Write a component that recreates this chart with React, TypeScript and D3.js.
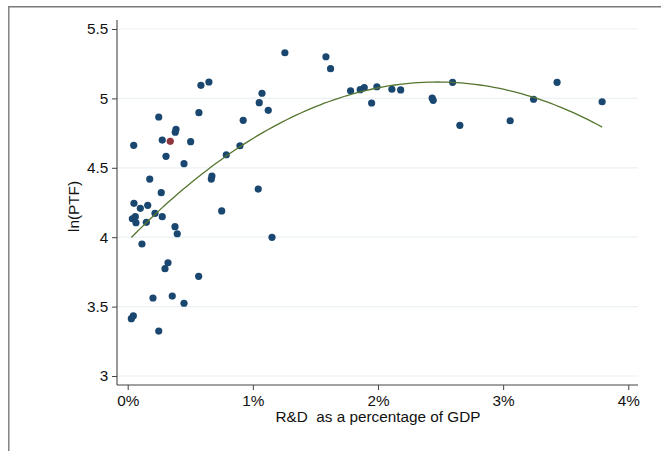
import React, { useEffect, useRef } from 'react';
import * as d3 from 'd3';

// R&D spending as % of GDP (x) and ln(PTF) (y)
const rdShare = [
  0.585, 0.649, 0.248, 0.569, 0.923, 0.386, 0.380, 0.048, 0.276, 0.503,
  0.306, 0.897, 0.788, 0.450, 0.176, 0.673, 0.668, 0.268, 0.050, 0.101,
  0.160, 0.751, 0.218, 0.276, 0.037, 0.061, 0.066, 0.149, 0.378, 0.396,
  0.114, 0.322, 0.298, 0.567, 0.202, 0.356, 0.450, 0.045, 0.029, 0.248,
  1.153, 1.256, 1.584, 1.621, 1.073, 1.051, 1.123, 1.043, 1.781, 1.858,
  1.890, 1.991, 1.949, 2.111, 2.181, 2.433, 2.441, 2.596, 2.654, 3.056,
  3.243, 3.431, 3.791
];
const lnPtf = [
  5.094, 5.118, 4.866, 4.897, 4.842, 4.777, 4.756, 4.662, 4.700, 4.688,
  4.583, 4.659, 4.594, 4.530, 4.419, 4.441, 4.419, 4.321, 4.244, 4.208,
  4.230, 4.189, 4.172, 4.148, 4.133, 4.148, 4.104, 4.107, 4.076, 4.025,
  3.951, 3.816, 3.773, 3.718, 3.562, 3.576, 3.524, 3.434, 3.413, 3.324,
  3.999, 5.329, 5.300, 5.214, 5.037, 4.969, 4.914, 4.347, 5.055, 5.063,
  5.077, 5.084, 4.967, 5.066, 5.061, 5.003, 4.986, 5.116, 4.806, 4.839,
  4.994, 5.116, 4.976
];
// highlighted observation
const highlightX = [0.340];
const highlightY = [4.691];

// quadratic fit: a + b*x + c*x^2
const fitCoef = [3.971, 0.927, -0.1873];

const xTicks = [0, 1, 2, 3, 4];
const yTicks = [3, 3.5, 4, 4.5, 5, 5.5];

const App: React.FC = () => {
  const svgRef = useRef<SVGSVGElement>(null);

  useEffect(() => {
    if (!svgRef.current) return;
    const svg = d3.select(svgRef.current);
    svg.selectAll('*').remove();

    const width = 661;
    const height = 451;
    const font = '"Liberation Sans", Arial, Helvetica, sans-serif';
    const fontSize = 15.3;

    const x = d3.scaleLinear().domain([0, 4]).range([127.7, 628.3]);
    const y = d3.scaleLinear().domain([3, 5.5]).range([376, 29]);

    const plotLeft = 117;
    const plotRight = 638;
    const plotBottom = 385;
    const plotTop = 20;

    svg.attr('width', width).attr('height', height);

    svg.append('rect')
      .attr('width', width)
      .attr('height', height)
      .attr('fill', '#fff');

    // outer frame (cropped)
    svg.append('path')
      .attr('d', `M8.8,${height} V6.8 H${width}`)
      .attr('fill', 'none')
      .attr('stroke', '#7a7a7a')
      .attr('stroke-width', 1.4);

    // gridlines
    svg.append('g')
      .selectAll('line')
      .data(yTicks)
      .enter()
      .append('line')
      .attr('x1', plotLeft)
      .attr('x2', plotRight)
      .attr('y1', d => y(d))
      .attr('y2', d => y(d))
      .attr('stroke', '#eaf2f3')
      .attr('stroke-width', 1.2);

    // y axis
    const yAxis = svg.append('g')
      .attr('transform', `translate(${plotLeft},0)`)
      .call(d3.axisLeft(y).tickValues(yTicks).tickSize(5).tickSizeOuter(0).tickPadding(3.7)
        .tickFormat(d => String(d)));
    yAxis.select('.domain').remove();
    yAxis.selectAll('line').attr('stroke', '#444');
    yAxis.selectAll('text')
      .attr('font-family', font)
      .attr('font-size', fontSize)
      .attr('fill', '#111');
    svg.append('line')
      .attr('x1', plotLeft).attr('x2', plotLeft)
      .attr('y1', plotTop).attr('y2', plotBottom)
      .attr('stroke', '#444')
      .attr('stroke-width', 1.1);

    // x axis
    const xAxis = svg.append('g')
      .attr('transform', `translate(0,${plotBottom})`)
      .call(d3.axisBottom(x).tickValues(xTicks).tickSize(5).tickSizeOuter(0).tickPadding(5.5)
        .tickFormat(d => `${d}%`));
    xAxis.select('.domain').remove();
    xAxis.selectAll('line').attr('stroke', '#444');
    xAxis.selectAll('text')
      .attr('font-family', font)
      .attr('font-size', fontSize)
      .attr('fill', '#111');
    svg.append('line')
      .attr('x1', plotLeft).attr('x2', plotRight)
      .attr('y1', plotBottom).attr('y2', plotBottom)
      .attr('stroke', '#444')
      .attr('stroke-width', 1.1);

    // axis titles
    svg.append('text')
      .attr('x', 378)
      .attr('y', 421.8)
      .attr('text-anchor', 'middle')
      .attr('font-family', font)
      .attr('font-size', fontSize)
      .attr('fill', '#111')
      .attr('xml:space', 'preserve')
      .style('white-space', 'pre')
      .text('R&D  as a percentage of GDP');

    svg.append('text')
      .attr('transform', 'translate(79,206.5) rotate(-90)')
      .attr('text-anchor', 'middle')
      .attr('font-family', font)
      .attr('font-size', fontSize)
      .attr('fill', '#111')
      .text('ln(PTF)');

    // scatter points
    const points = rdShare.map((v, i) => ({ x: v, y: lnPtf[i] }));
    svg.append('g')
      .selectAll('circle')
      .data(points)
      .enter()
      .append('circle')
      .attr('cx', d => x(d.x))
      .attr('cy', d => y(d.y))
      .attr('r', 3.6)
      .attr('fill', '#1a476f');

    svg.append('g')
      .selectAll('circle')
      .data(highlightX.map((v, i) => ({ x: v, y: highlightY[i] })))
      .enter()
      .append('circle')
      .attr('cx', d => x(d.x))
      .attr('cy', d => y(d.y))
      .attr('r', 3.6)
      .attr('fill', '#90353b');

    // quadratic fit line over the data range
    const allX = rdShare.concat(highlightX);
    const [xMin, xMax] = d3.extent(allX) as [number, number];
    const fitXs = d3.range(0, 101).map(i => xMin + (xMax - xMin) * i / 100);
    const line = d3.line<number>()
      .x(d => x(d))
      .y(d => y(fitCoef[0] + fitCoef[1] * d + fitCoef[2] * d * d));
    svg.append('path')
      .datum(fitXs)
      .attr('d', line)
      .attr('fill', 'none')
      .attr('stroke', '#55752f')
      .attr('stroke-width', 1.3);
  }, []);

  return (
    <svg ref={svgRef} style={{ position: 'absolute', left: 0, top: 0, display: 'block' }}></svg>
  );
};

export default App;
